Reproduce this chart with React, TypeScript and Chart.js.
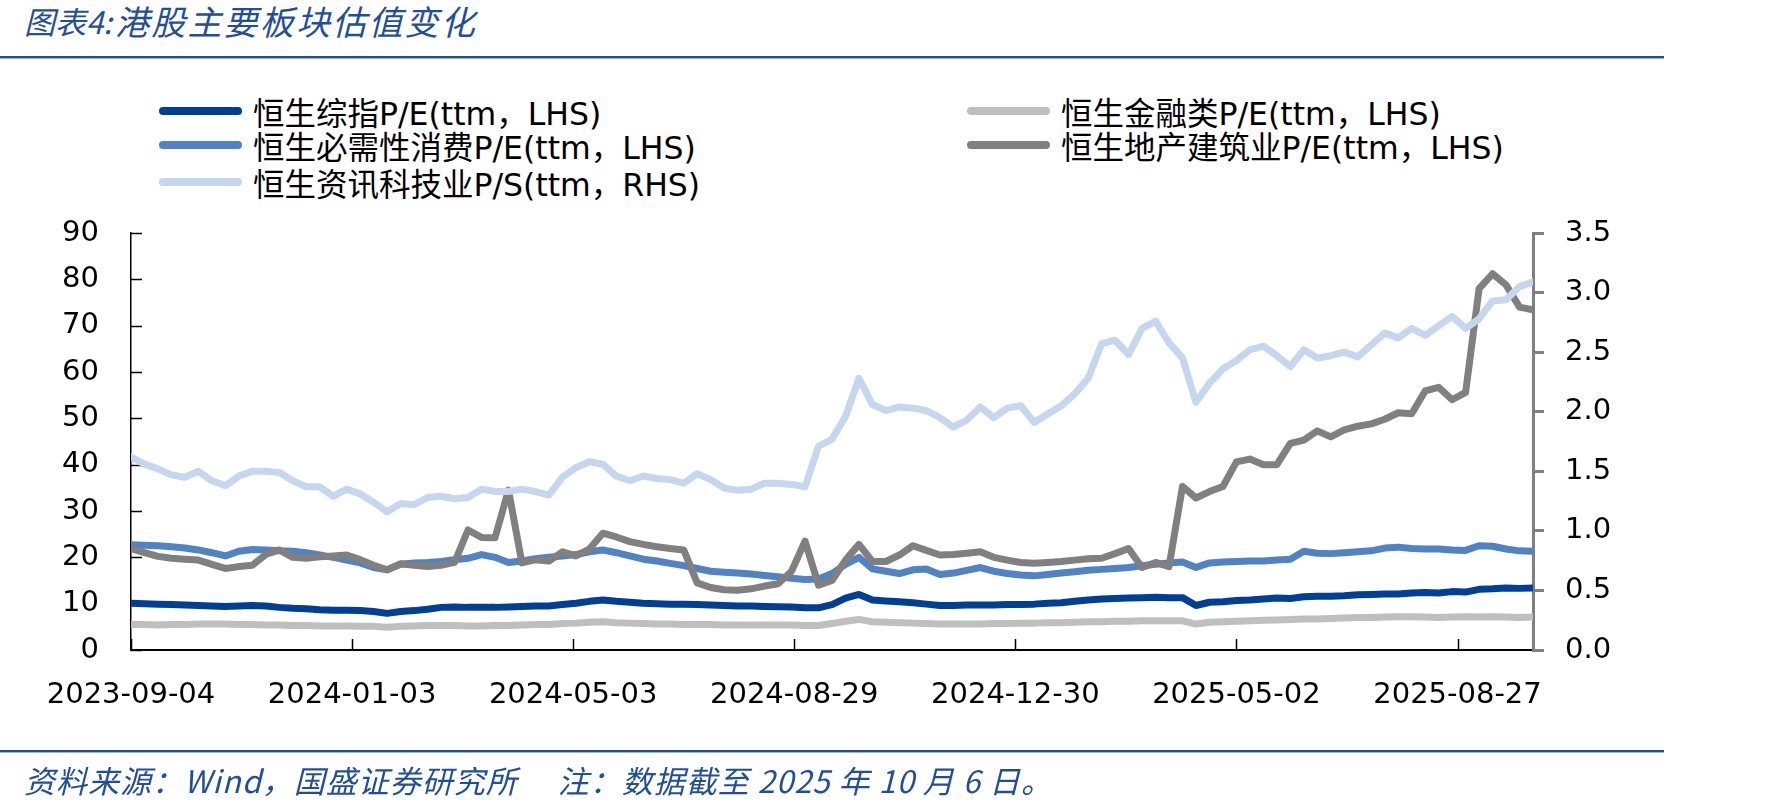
import React, { useEffect, useRef } from "react";
import { Chart, registerables } from "chart.js";

Chart.register(...registerables);

// trading-day index (0 = 2023-09-04) of each sampled observation
const sampleDay = [
  0, 5, 10, 15, 20, 25, 30, 35, 40, 45, 50, 55, 60, 65, 70, 75, 80, 85, 90, 95,
  100, 105, 110, 115, 120, 125, 130, 135, 140, 145, 150, 155, 160, 165, 170, 175, 180, 185, 190, 195,
  200, 205, 210, 215, 220, 225, 230, 235, 240, 245, 250, 255, 260, 265, 270, 275, 280, 285, 290, 295,
  300, 305, 310, 315, 320, 325, 330, 335, 340, 345, 350, 355, 360, 365, 370, 375, 380, 385, 390, 395,
  400, 405, 410, 415, 420, 425, 430, 435, 440, 445, 450, 455, 460, 465, 470, 475, 480, 485, 490, 495,
  500, 505, 510, 515, 520,
];

const xTickDays = [0, 82, 164, 246, 328, 410, 492];
const xTickLabels = ["2023-09-04", "2024-01-03", "2024-05-03", "2024-08-29", "2024-12-30", "2025-05-02", "2025-08-27"];

// 恒生综指 P/E (ttm, LHS)
const hsciPE = [
  10.1, 10.0, 9.9, 9.8, 9.7, 9.6, 9.5, 9.4, 9.5, 9.6,
  9.5, 9.2, 9.0, 8.9, 8.7, 8.6, 8.6, 8.5, 8.3, 7.9,
  8.3, 8.5, 8.8, 9.2, 9.3, 9.2, 9.2, 9.2, 9.3, 9.4,
  9.5, 9.5, 9.8, 10.1, 10.5, 10.8, 10.5, 10.3, 10.1, 10.0,
  9.9, 9.9, 9.8, 9.7, 9.6, 9.5, 9.5, 9.4, 9.35, 9.3,
  9.1, 9.1, 9.8, 11.2, 12.0, 10.8, 10.6, 10.4, 10.2, 9.9,
  9.6, 9.6, 9.7, 9.7, 9.7, 9.8, 9.8, 9.9, 10.1, 10.2,
  10.5, 10.8, 11.0, 11.1, 11.2, 11.3, 11.4, 11.3, 11.3, 9.6,
  10.3, 10.4, 10.7, 10.8, 11.0, 11.2, 11.1, 11.5, 11.6, 11.6,
  11.7, 11.9, 12.0, 12.1, 12.1, 12.3, 12.4, 12.3, 12.6, 12.5,
  13.1, 13.2, 13.4, 13.3, 13.4,
];

// 恒生金融类 P/E (ttm, LHS)
const finPE = [
  5.5, 5.5, 5.4, 5.5, 5.5, 5.6, 5.6, 5.6, 5.5, 5.5,
  5.4, 5.4, 5.3, 5.3, 5.2, 5.2, 5.2, 5.1, 5.1, 4.9,
  5.1, 5.2, 5.3, 5.3, 5.3, 5.2, 5.2, 5.3, 5.3, 5.4,
  5.5, 5.5, 5.7, 5.8, 6.0, 6.1, 5.9, 5.8, 5.7, 5.6,
  5.6, 5.5, 5.5, 5.5, 5.4, 5.4, 5.4, 5.4, 5.4, 5.4,
  5.3, 5.3, 5.7, 6.2, 6.6, 6.1, 6.0, 5.9, 5.8, 5.7,
  5.6, 5.6, 5.6, 5.6, 5.7, 5.7, 5.8, 5.8, 5.9, 5.9,
  6.0, 6.1, 6.1, 6.2, 6.2, 6.3, 6.3, 6.3, 6.3, 5.6,
  6.0, 6.1, 6.2, 6.3, 6.4, 6.5, 6.6, 6.7, 6.7, 6.8,
  6.9, 7.0, 7.0, 7.1, 7.2, 7.2, 7.1, 7.0, 7.1, 7.2,
  7.1, 7.2, 7.1, 7.0, 7.1,
];

// 恒生必需性消费 P/E (ttm, LHS)
const staplesPE = [
  22.7, 22.6, 22.5, 22.3, 22.0, 21.6, 21.0, 20.3, 21.3, 21.7,
  21.6, 21.4, 21.3, 21.0, 20.5, 20.0, 19.4, 18.8, 17.8, 17.3,
  18.5, 18.8, 18.9, 19.1, 19.5, 19.8, 20.6, 20.0, 18.9, 19.2,
  19.7, 20.0, 20.3, 20.6, 21.2, 21.6, 21.0, 20.3, 19.6, 19.2,
  18.7, 18.2, 17.6, 17.0, 16.8, 16.6, 16.4, 16.1, 15.8, 15.5,
  15.2, 15.3, 16.5, 18.5, 20.0, 17.5, 17.0, 16.5, 17.3, 17.5,
  16.3, 16.6, 17.2, 17.8, 17.0, 16.5, 16.2, 16.0, 16.3, 16.6,
  16.9, 17.2, 17.4, 17.6, 17.8, 18.2, 18.5, 18.8, 19.0, 17.8,
  18.8, 19.0, 19.1, 19.2, 19.2, 19.4, 19.6, 21.3, 20.9, 20.8,
  21.0, 21.2, 21.4, 22.0, 22.2, 21.9, 21.8, 21.8, 21.6, 21.5,
  22.5, 22.4, 21.8, 21.4, 21.3,
];

// 恒生地产建筑业 P/E (ttm, LHS)
const propertyPE = [
  21.9, 21.0, 20.2, 19.8, 19.6, 19.4, 18.5, 17.6, 18.0, 18.3,
  20.6, 21.6, 20.0, 19.8, 20.1, 20.3, 20.5, 19.5, 18.3, 17.3,
  18.6, 18.3, 18.0, 18.3, 18.9, 25.9, 24.3, 24.2, 34.5, 18.8,
  19.5, 19.2, 21.2, 20.3, 21.8, 25.2, 24.4, 23.4, 22.8, 22.3,
  21.9, 21.6, 14.5, 13.5, 13.0, 12.9, 13.2, 13.8, 14.3, 17.0,
  23.5, 14.0, 15.0, 19.4, 22.8, 19.1, 19.1, 20.5, 22.5, 21.5,
  20.5, 20.6, 20.9, 21.2, 20.0, 19.4, 18.9, 18.7, 18.9, 19.1,
  19.4, 19.7, 19.8, 20.8, 21.9, 17.8, 18.9, 18.0, 35.3, 32.8,
  34.2, 35.3, 40.6, 41.2, 40.0, 40.0, 44.6, 45.3, 47.3, 46.0,
  47.5, 48.3, 48.8, 49.8, 51.2, 51.0, 55.9, 56.7, 54.0, 55.6,
  78.0, 81.2, 78.8, 74.0, 73.4,
];

// 恒生资讯科技业 P/S (ttm, RHS)
const techPS = [
  1.62, 1.56, 1.52, 1.47, 1.45, 1.50, 1.42, 1.38, 1.46, 1.50,
  1.50, 1.49, 1.42, 1.37, 1.37, 1.29, 1.35, 1.31, 1.24, 1.16,
  1.23, 1.22, 1.28, 1.29, 1.27, 1.28, 1.35, 1.33, 1.33, 1.35,
  1.33, 1.30, 1.45, 1.53, 1.58, 1.56, 1.46, 1.42, 1.46, 1.44,
  1.43, 1.40, 1.48, 1.43, 1.36, 1.34, 1.35, 1.40, 1.40, 1.39,
  1.37, 1.71, 1.77, 1.96, 2.28, 2.06, 2.01, 2.04, 2.03, 2.01,
  1.95, 1.87, 1.93, 2.04, 1.95, 2.03, 2.05, 1.91, 1.98, 2.05,
  2.15, 2.28, 2.57, 2.60, 2.48, 2.70, 2.76, 2.58, 2.45, 2.08,
  2.24, 2.36, 2.43, 2.52, 2.55, 2.47, 2.38, 2.52, 2.45, 2.47,
  2.50, 2.46, 2.56, 2.66, 2.62, 2.70, 2.64, 2.72, 2.80, 2.70,
  2.78, 2.93, 2.94, 3.05, 3.09,
];

const seriesNames = [
  "恒生综指P/E(ttm，LHS)",
  "恒生金融类P/E(ttm，LHS)",
  "恒生必需性消费P/E(ttm，LHS)",
  "恒生地产建筑业P/E(ttm，LHS)",
  "恒生资讯科技业P/S(ttm，RHS)",
];
const seriesColors = ["#003F98", "#BFBFBF", "#4F83C6", "#808080", "#C5D7EE"];

const legendCol = [0, 1, 0, 1, 0];
const legendRow = [0, 0, 1, 1, 2];

const tickFont = { family: '"DejaVu Sans"', size: 29 };

export default function App() {
  const ref = useRef<HTMLCanvasElement>(null);

  useEffect(() => {
    if (!ref.current) return;
    const toPts = (vals: number[]) => vals.map((v, i) => ({ x: sampleDay[i], y: v }));
    const allVals = [hsciPE, finPE, staplesPE, propertyPE, techPS];

    const inwardTicks = {
      id: "inwardTicks",
      beforeDatasetsDraw(chart: any) {
        const { ctx, chartArea, scales } = chart;
        ctx.save();
        ctx.strokeStyle = "#000";
        ctx.lineWidth = 1.5;
        scales.y.ticks.forEach((t: any) => {
          const y = Math.round(scales.y.getPixelForValue(t.value)) + 0.5;
          ctx.beginPath();
          ctx.moveTo(chartArea.left, y);
          ctx.lineTo(chartArea.left + 11, y);
          ctx.stroke();
        });
        scales.x.ticks.forEach((t: any) => {
          const x = Math.round(scales.x.getPixelForValue(t.value)) + 0.5;
          ctx.beginPath();
          ctx.moveTo(x, chartArea.bottom);
          ctx.lineTo(x, chartArea.bottom - 11);
          ctx.stroke();
        });
        ctx.restore();
      },
    };

    const chart = new Chart(ref.current, {
      type: "line",
      data: {
        datasets: allVals.map((vals, i) => ({
          label: seriesNames[i],
          data: toPts(vals),
          borderColor: seriesColors[i],
          backgroundColor: seriesColors[i],
          borderWidth: 7,
          pointRadius: 0,
          tension: 0,
          borderJoinStyle: "round" as const,
          borderCapStyle: "round" as const,
          yAxisID: i === 4 ? "y1" : "y",
          order: 5 - i,
        })),
      },
      options: {
        animation: false,
        responsive: false,
        maintainAspectRatio: false,
        layout: { padding: { top: 233, left: 0, right: 0, bottom: 0 } },
        plugins: { legend: { display: false }, tooltip: { enabled: false } },
        scales: {
          x: {
            type: "linear",
            min: 0,
            max: 520,
            afterBuildTicks: (s: any) => {
              s.ticks = xTickDays.map((v) => ({ value: v }));
            },
            afterFit: (s: any) => {
              s.height = 157;
            },
            ticks: {
              autoSkip: false,
              maxRotation: 0,
              minRotation: 0,
              padding: 28,
              color: "#000",
              font: tickFont,
              callback: (v: any) => {
                const k = xTickDays.indexOf(Number(v));
                return k >= 0 ? xTickLabels[k] : "";
              },
            },
            grid: { display: false, drawTicks: false },
            border: { display: true, color: "#000", width: 2 },
          },
          y: {
            position: "left",
            min: 0,
            max: 90,
            afterFit: (s: any) => {
              s.width = 131;
            },
            ticks: { stepSize: 10, padding: 32, color: "#000", font: tickFont },
            grid: { display: false, drawTicks: false },
            border: { display: true, color: "#000", width: 1.5 },
          },
          y1: {
            position: "right",
            min: 0,
            max: 3.5,
            afterFit: (s: any) => {
              s.width = 251;
            },
            ticks: {
              stepSize: 0.5,
              padding: 21,
              color: "#000",
              font: tickFont,
              callback: (v: any) => Number(v).toFixed(1),
            },
            grid: { display: true, drawOnChartArea: false, drawTicks: true, tickLength: 11, color: "#808080", lineWidth: 3 },
            border: { display: true, color: "#808080", width: 3 },
          },
        },
      } as any,
      plugins: [inwardTicks],
    });
    return () => chart.destroy();
  }, []);

  const blue = "#1F4E9A";
  const colX = [159, 967];
  const rowY = [111, 145, 182];
  const titleStyle = {
    position: "absolute" as const,
    top: 0,
    lineHeight: "42px",
    fontStyle: "italic",
    color: blue,
    fontFamily: '"Noto Sans CJK SC", sans-serif',
    whiteSpace: "pre" as const,
  };

  return (
    <div style={{ position: "absolute", left: 0, top: 0, width: 1784, height: 807, background: "#fff", overflow: "hidden" }}>
      <div style={{ ...titleStyle, left: 24, fontSize: 31 }}>图表4:</div>
      <div style={{ ...titleStyle, left: 115, fontSize: 34, letterSpacing: 2.2 }}>港股主要板块估值变化</div>
      <div style={{ position: "absolute", left: 0, top: 56, width: 1664, height: 2, background: blue }} />
      <div style={{ position: "absolute", left: 0, top: 58, width: 1664, height: 1, background: "#9DB3D8" }} />

      {seriesNames.map((name, i) => (
        <div
          key={i}
          style={{
            position: "absolute",
            left: colX[legendCol[i]],
            top: rowY[legendRow[i]] - 20,
            height: 40,
            display: "flex",
            alignItems: "center",
            whiteSpace: "nowrap",
          }}
        >
          <span style={{ display: "inline-block", width: 83, height: 8, borderRadius: 4, background: seriesColors[i], marginRight: 11 }} />
          <span style={{ fontSize: 31.5, color: "#000", fontFamily: '"DejaVu Sans", "Noto Sans CJK SC", sans-serif' }}>{name}</span>
        </div>
      ))}

      <canvas ref={ref} width={1784} height={807} style={{ position: "absolute", left: 0, top: 0 }} />

      <div style={{ position: "absolute", left: 0, top: 750, width: 1664, height: 2, background: blue }} />
      <div style={{ position: "absolute", left: 0, top: 752, width: 1664, height: 1, background: "#9DB3D8" }} />
      <div
        style={{
          position: "absolute",
          left: 24,
          top: 760,
          fontSize: 31,
          lineHeight: "40px",
          letterSpacing: 1,
          fontStyle: "italic",
          color: blue,
          fontFamily: '"Noto Sans CJK SC", sans-serif',
          whiteSpace: "pre",
        }}
      >
        资料来源：Wind，国盛证券研究所　 注：数据截至 2025 年 10 月 6 日。
      </div>
    </div>
  );
}
